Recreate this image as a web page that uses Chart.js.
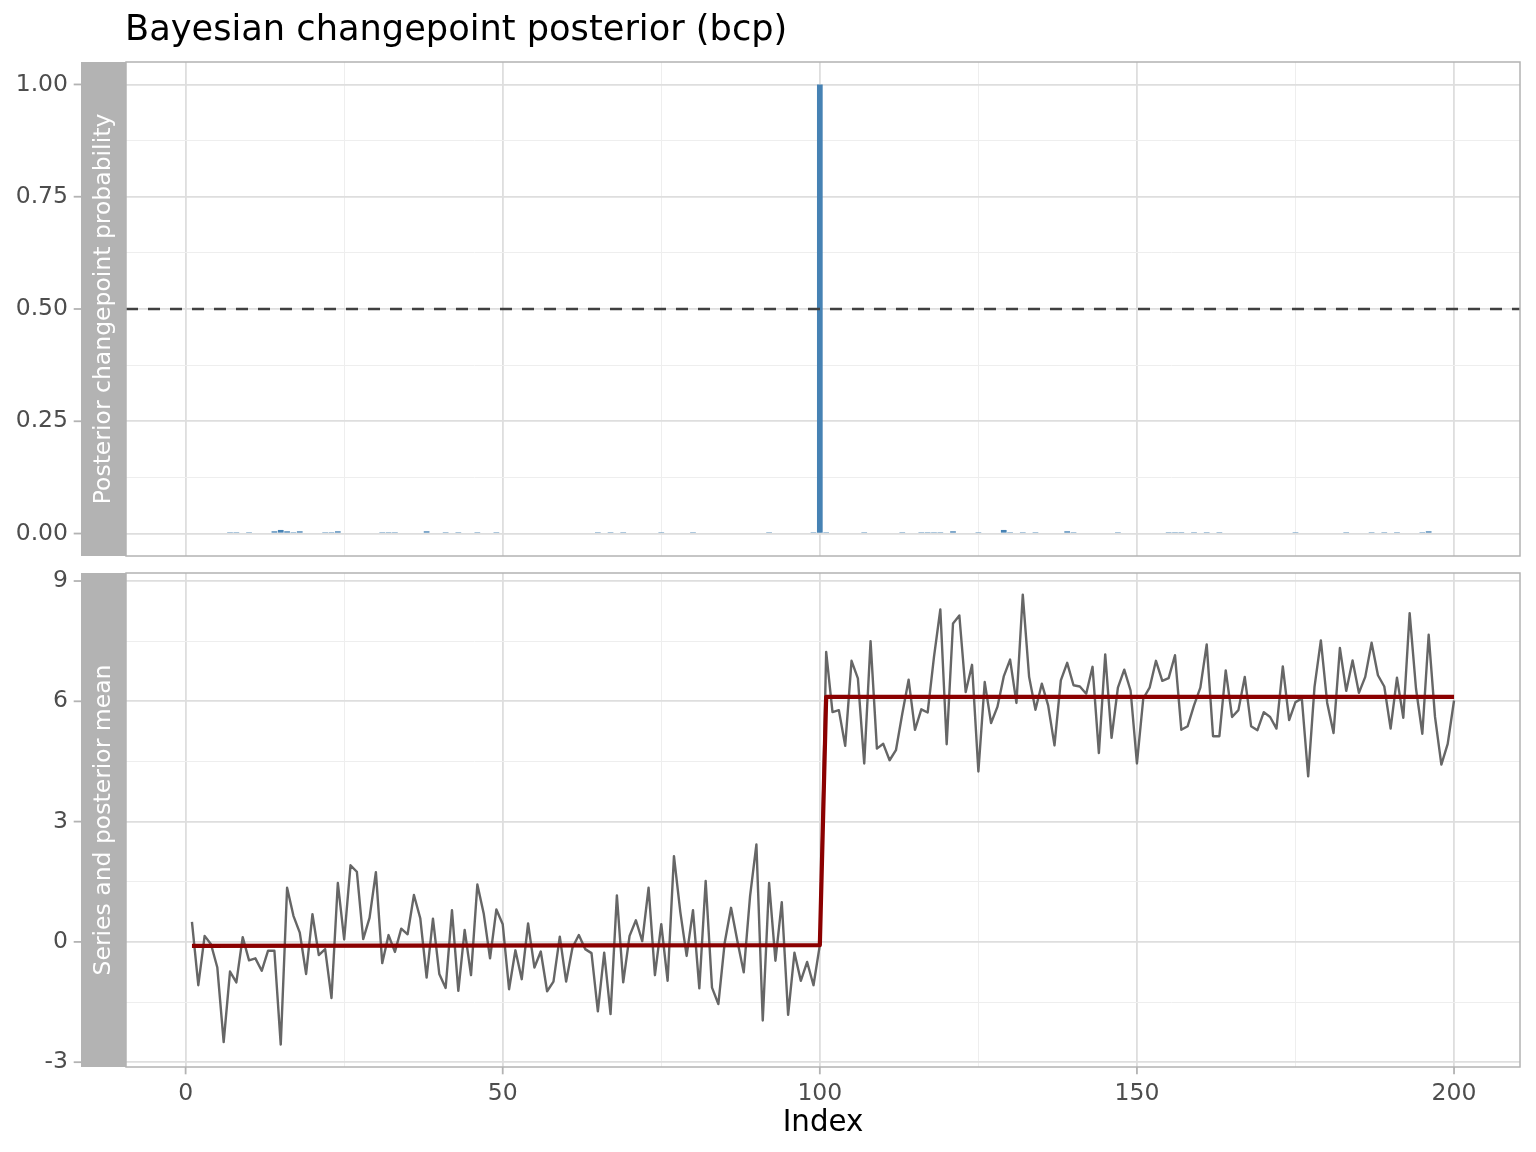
<!DOCTYPE html>
<html>
<head>
<meta charset="utf-8">
<script src="https://cdn.jsdelivr.net/npm/chart.js@4.4.1/dist/chart.umd.min.js"></script>
<style>
  html, body { margin: 0; padding: 0; background: #fff; }
  #wrap { position: relative; width: 1536px; height: 1152px; }
  canvas { position: absolute; left: 0; top: 0; }
</style>
</head>
<body>
<div id="wrap">
  <canvas id="probChart" width="1536" height="1152"></canvas>
  <canvas id="seriesChart" width="1536" height="1152"></canvas>
</div>
<script>
// Text
const chartTitle = 'Bayesian changepoint posterior (bcp)';
const xTitle = 'Index';
const topStrip = 'Posterior changepoint probability';
const bottomStrip = 'Series and posterior mean';

// Ticks (major get labels, minor only grid lines)
const xMajor = [0, 50, 100, 150, 200];
const xMinor = [25, 75, 125, 175];
const probMajor = [0, 0.25, 0.5, 0.75, 1];
const probMinor = [0.125, 0.375, 0.625, 0.875];
const seriesMajor = [-3, 0, 3, 6, 9];
const seriesMinor = [-1.5, 1.5, 4.5, 7.5];
const threshold = 0.5;

// Posterior changepoint probability (indices with a visible bar)
const cpIndex = [7, 8, 10, 14, 15, 16, 17, 18, 22, 23, 24, 31, 32, 33, 38, 41, 43, 46, 49,
  65, 67, 69, 75, 80, 92, 99, 100, 101, 107, 113, 116, 117, 118, 119, 121, 125, 129, 130,
  132, 134, 139, 140, 147, 155, 156, 157, 159, 161, 163, 175, 183, 187, 189, 191, 195, 196];
const cpProb = [0.003, 0.003, 0.003, 0.005, 0.008, 0.005, 0.003, 0.005, 0.003, 0.003, 0.005, 0.003, 0.003, 0.003, 0.005, 0.003, 0.003, 0.003, 0.003,
  0.003, 0.003, 0.003, 0.003, 0.003, 0.003, 0.003, 1.0, 0.003, 0.003, 0.003, 0.003, 0.003, 0.003, 0.003, 0.005, 0.003, 0.008, 0.003,
  0.003, 0.003, 0.005, 0.003, 0.003, 0.003, 0.003, 0.003, 0.003, 0.003, 0.003, 0.003, 0.003, 0.003, 0.003, 0.003, 0.003, 0.005];

// Observed series, index 1..200
const seriesValues = [
  0.50, -1.08, 0.15, -0.06, -0.64, -2.50, -0.74, -1.01, 0.12, -0.46,
  -0.41, -0.72, -0.22, -0.22, -2.56, 1.35, 0.65, 0.23, -0.80, 0.69,
  -0.33, -0.18, -1.40, 1.47, 0.06, 1.91, 1.75, 0.07, 0.60, 1.74,
  -0.53, 0.17, -0.25, 0.33, 0.19, 1.17, 0.59, -0.89, 0.58, -0.80,
  -1.15, 0.79, -1.22, 0.30, -0.83, 1.43, 0.71, -0.41, 0.81, 0.44,
  -1.18, -0.21, -0.93, 0.46, -0.64, -0.24, -1.23, -0.99, 0.13, -0.99,
  -0.14, 0.17, -0.18, -0.28, -1.73, -0.27, -1.80, 1.16, -1.01, 0.15,
  0.54, 0.02, 1.35, -0.83, 0.44, -0.97, 2.14, 0.75, -0.35, 0.79,
  -1.16, 1.52, -1.14, -1.55, -0.02, 0.85, 0.02, -0.76, 1.14, 2.43,
  -1.96, 1.47, -0.47, 0.99, -1.82, -0.27, -0.97, -0.50, -1.08, -0.08,
  7.23, 5.73, 5.78, 4.89, 7.01, 6.57, 4.45, 7.50, 4.82, 4.94,
  4.53, 4.78, 5.69, 6.54, 5.29, 5.80, 5.72, 7.11, 8.29, 4.93,
  7.94, 8.14, 6.23, 6.91, 4.25, 6.48, 5.46, 5.86, 6.62, 7.04,
  5.96, 8.66, 6.61, 5.79, 6.44, 5.90, 4.90, 6.52, 6.96, 6.40,
  6.37, 6.19, 6.86, 4.71, 7.17, 5.09, 6.34, 6.79, 6.27, 4.45,
  6.07, 6.34, 7.01, 6.51, 6.58, 7.15, 5.29, 5.38, 5.90, 6.34,
  7.42, 5.13, 5.13, 6.77, 5.61, 5.78, 6.61, 5.38, 5.28, 5.73,
  5.61, 5.32, 6.87, 5.53, 5.98, 6.07, 4.13, 6.36, 7.52, 5.96,
  5.21, 7.33, 6.26, 7.02, 6.21, 6.61, 7.46, 6.65, 6.37, 5.32,
  6.59, 5.59, 8.20, 6.32, 5.19, 7.66, 5.61, 4.42, 4.94, 6.02
];

// Posterior mean (piecewise)
const meanIndex = [1, 100, 101, 200];
const meanValues = [-0.10, -0.08, 6.11, 6.11];

const FONT = 'DejaVu Sans';
const GREY30 = '#4D4D4D';
const GREY70 = '#B3B3B3';
const STRIP_LEFT = 81;

function tickList(major, minor) {
  return major.concat(minor).sort((a, b) => a - b).map(v => ({ value: v }));
}
function gridColor(major) {
  return c => (c.tick && major.includes(c.tick.value)) ? '#DEDEDE' : '#EEEEEE';
}
function gridWidth(major) {
  return c => (c.tick && major.includes(c.tick.value)) ? 1.8 : 1;
}

const panelDecor = {
  id: 'panelDecor',
  afterDatasetsDraw(chart, args, opts) {
    if (opts.hline === undefined) return;
    const { ctx, chartArea: a, scales } = chart;
    const y = scales.y.getPixelForValue(opts.hline);
    ctx.save();
    ctx.strokeStyle = '#404040';
    ctx.lineWidth = 2.6;
    ctx.setLineDash([12, 10]);
    ctx.beginPath();
    ctx.moveTo(a.left, y);
    ctx.lineTo(a.right, y);
    ctx.stroke();
    ctx.restore();
  },
  afterDraw(chart, args, opts) {
    const { ctx, chartArea: a, scales } = chart;
    ctx.save();
    // strip
    ctx.fillStyle = GREY70;
    ctx.fillRect(STRIP_LEFT, a.top, a.left - STRIP_LEFT, a.bottom - a.top);
    ctx.save();
    ctx.fillStyle = '#FFFFFF';
    ctx.font = '23.5px "' + FONT + '"';
    ctx.textAlign = 'center';
    ctx.textBaseline = 'middle';
    ctx.translate((STRIP_LEFT + a.left) / 2, (a.top + a.bottom) / 2);
    ctx.rotate(-Math.PI / 2);
    ctx.fillText(opts.label, 0, 0);
    ctx.restore();
    // panel border
    ctx.strokeStyle = GREY70;
    ctx.lineWidth = 1.5;
    ctx.strokeRect(a.left, a.top, a.right - a.left, a.bottom - a.top);
    // tick marks
    ctx.lineWidth = 1.8;
    opts.yMajor.forEach(v => {
      const y = scales.y.getPixelForValue(v);
      ctx.beginPath();
      ctx.moveTo(STRIP_LEFT - 7.3, y);
      ctx.lineTo(STRIP_LEFT, y);
      ctx.stroke();
    });
    if (opts.xTicks) {
      xMajor.forEach(v => {
        const x = scales.x.getPixelForValue(v);
        ctx.beginPath();
        ctx.moveTo(x, a.bottom);
        ctx.lineTo(x, a.bottom + 7.3);
        ctx.stroke();
      });
    }
    if (opts.title) {
      ctx.fillStyle = '#000000';
      ctx.font = '35.2px "' + FONT + '"';
      ctx.textAlign = 'left';
      ctx.textBaseline = 'alphabetic';
      ctx.fillText(opts.title, 125, 40);
    }
    ctx.restore();
  }
};

function xScale(showLabels) {
  return {
    type: 'linear',
    min: -9.4,
    max: 210.4,
    offset: false,
    afterBuildTicks: s => { s.ticks = tickList(xMajor, xMinor); },
    afterFit: s => {
      s.height = showLabels ? 85 : 0;
      s.paddingLeft = 0;
      s.paddingRight = 0;
    },
    border: { display: false },
    grid: { color: gridColor(xMajor), lineWidth: gridWidth(xMajor), drawTicks: false, offset: false },
    ticks: {
      display: showLabels,
      autoSkip: false,
      maxRotation: 0,
      padding: 13,
      color: GREY30,
      font: { family: FONT, size: 23.5 },
      callback: v => xMajor.includes(v) ? String(v) : ''
    },
    title: {
      display: showLabels,
      text: xTitle,
      color: '#000000',
      font: { family: FONT, size: 29.3 },
      padding: { top: 0, bottom: 11 }
    }
  };
}

function yScale(min, max, major, minor, fmt) {
  return {
    type: 'linear',
    min: min,
    max: max,
    afterBuildTicks: s => { s.ticks = tickList(major, minor); },
    afterFit: s => {
      s.width = 126;
      s.paddingTop = 0;
      s.paddingBottom = 0;
    },
    border: { display: false },
    grid: { color: gridColor(major), lineWidth: gridWidth(major), drawTicks: false },
    ticks: {
      autoSkip: false,
      padding: 58,
      color: GREY30,
      font: { family: FONT, size: 23.5 },
      callback: v => major.includes(v) ? fmt(v) : ''
    }
  };
}

new Chart(document.getElementById('probChart'), {
  type: 'bar',
  data: {
    datasets: [{
      data: cpIndex.map((x, i) => ({ x: x, y: cpProb[i] })),
      backgroundColor: '#4682B4',
      borderWidth: 0,
      barPercentage: 0.9,
      categoryPercentage: 1.0
    }]
  },
  options: {
    responsive: false,
    animation: false,
    layout: { padding: { top: 62, right: 16, bottom: 596, left: 0 } },
    plugins: {
      legend: { display: false },
      tooltip: { enabled: false },
      panelDecor: { label: topStrip, hline: threshold, yMajor: probMajor, xTicks: false, title: chartTitle }
    },
    scales: {
      x: xScale(false),
      y: yScale(-0.05, 1.05, probMajor, probMinor, v => v.toFixed(2))
    }
  },
  plugins: [panelDecor]
});

new Chart(document.getElementById('seriesChart'), {
  type: 'line',
  data: {
    datasets: [
      {
        data: meanIndex.map((x, i) => ({ x: x, y: meanValues[i] })),
        borderColor: '#8B0000',
        borderWidth: 4.2,
        pointRadius: 0,
        tension: 0,
        borderJoinStyle: 'round'
      },
      {
        data: seriesValues.map((v, i) => ({ x: i + 1, y: v })),
        borderColor: '#666666',
        borderWidth: 2.4,
        pointRadius: 0,
        tension: 0,
        borderJoinStyle: 'round'
      }
    ]
  },
  options: {
    responsive: false,
    animation: false,
    layout: { padding: { top: 573, right: 16, bottom: 0, left: 0 } },
    plugins: {
      legend: { display: false },
      tooltip: { enabled: false },
      panelDecor: { label: bottomStrip, yMajor: seriesMajor, xTicks: true }
    },
    scales: {
      x: xScale(true),
      y: yScale(-3.12, 9.2, seriesMajor, seriesMinor, v => String(v))
    }
  },
  plugins: [panelDecor]
});
</script>
</body>
</html>
